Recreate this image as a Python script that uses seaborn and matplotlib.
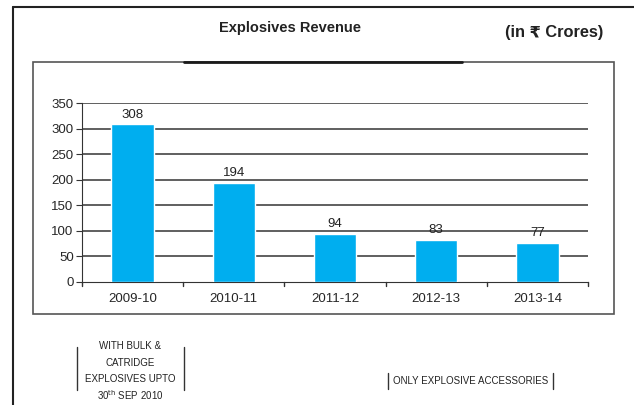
import matplotlib
matplotlib.use("Agg")
import matplotlib.pyplot as plt
import seaborn as sns
import pandas as pd
from matplotlib.lines import Line2D
from matplotlib.patches import Rectangle

years = ["2009-10", "2010-11", "2011-12", "2012-13", "2013-14"]
revenue = [308, 194, 94, 83, 77]
y_ticks = [0, 50, 100, 150, 200, 250, 300, 350]
note_lines = ["WITH BULK &", "CATRIDGE", "EXPLOSIVES UPTO", "30$^{\\rm th}$ SEP 2010"]

df = pd.DataFrame({"year": years, "revenue": revenue})

sns.set_style("white")
plt.rcParams["font.family"] = ["Liberation Sans", "DejaVu Sans"]

W, H = 634, 405
fig = plt.figure(figsize=(W / 100, H / 100), dpi=100)


def fx(px):
    return px / W


def fy(py):
    return 1 - py / H


ax = fig.add_axes([fx(82), fy(282), fx(588) - fx(82), fy(103) - fy(282)])
sns.barplot(data=df, x="year", y="revenue", color="#00AEEF", width=0.42,
            saturation=1, ax=ax, zorder=3)

ax.set_ylim(0, 350)
ax.set_yticks(y_ticks)
ax.set_xlim(-0.5, len(years) - 0.5)
ax.set_xlabel("")
ax.set_ylabel("")
for v in y_ticks[1:]:
    ax.axhline(v, color="#444444", lw=1.2, zorder=1)
for s in ["top", "right"]:
    ax.spines[s].set_visible(False)
ax.spines["left"].set_color("#333333")
ax.spines["bottom"].set_color("#333333")
ax.tick_params(axis="y", length=4, color="#333333", labelsize=9.5, pad=2, left=True)
ax.tick_params(axis="x", length=0, labelsize=9.5, pad=8)
for b in [i + 0.5 for i in range(-1, len(years))]:
    ax.plot([b, b], [0, -7], color="#333333", lw=1, clip_on=False, zorder=4)

for i, v in enumerate(revenue):
    ax.text(i, v + 7, str(v), ha="center", va="bottom", fontsize=9.5, color="#222222")

# frames
fig.add_artist(Line2D([fx(13), fx(13)], [fy(7), fy(405)], color="#222222", lw=1.5))
fig.add_artist(Line2D([fx(13), fx(634)], [fy(7), fy(7)], color="#222222", lw=1.5))
fig.add_artist(Rectangle((fx(33), fy(314)), fx(614) - fx(33), fy(62) - fy(314),
                         fill=False, edgecolor="#555555", lw=1.2))
fig.add_artist(Line2D([fx(184), fx(462)], [fy(62), fy(62)], color="#1a1a1a", lw=2))

fig.text(fx(290), fy(28), "Explosives Revenue", ha="center", va="center",
         fontsize=10.5, fontweight="bold", color="#222222")
fig.text(fx(554), fy(33), "(in \u20b9 Crores)", ha="center", va="center",
         fontsize=11.8, fontweight="bold", color="#222222")

for k, line in enumerate(note_lines):
    fig.text(fx(130), fy(346 + 16.5 * k), line, ha="center", va="center",
             fontsize=7, color="#222222")
fig.add_artist(Line2D([fx(77), fx(77)], [fy(347), fy(390)], color="#333333", lw=1))
fig.add_artist(Line2D([fx(184), fx(184)], [fy(347), fy(390)], color="#333333", lw=1))

fig.text(fx(471), fy(381), "ONLY EXPLOSIVE ACCESSORIES", ha="center", va="center",
         fontsize=7, color="#222222")
fig.add_artist(Line2D([fx(388), fx(388)], [fy(373), fy(389)], color="#333333", lw=1))
fig.add_artist(Line2D([fx(553), fx(553)], [fy(373), fy(389)], color="#333333", lw=1))

fig.savefig("out.png", dpi=100)
